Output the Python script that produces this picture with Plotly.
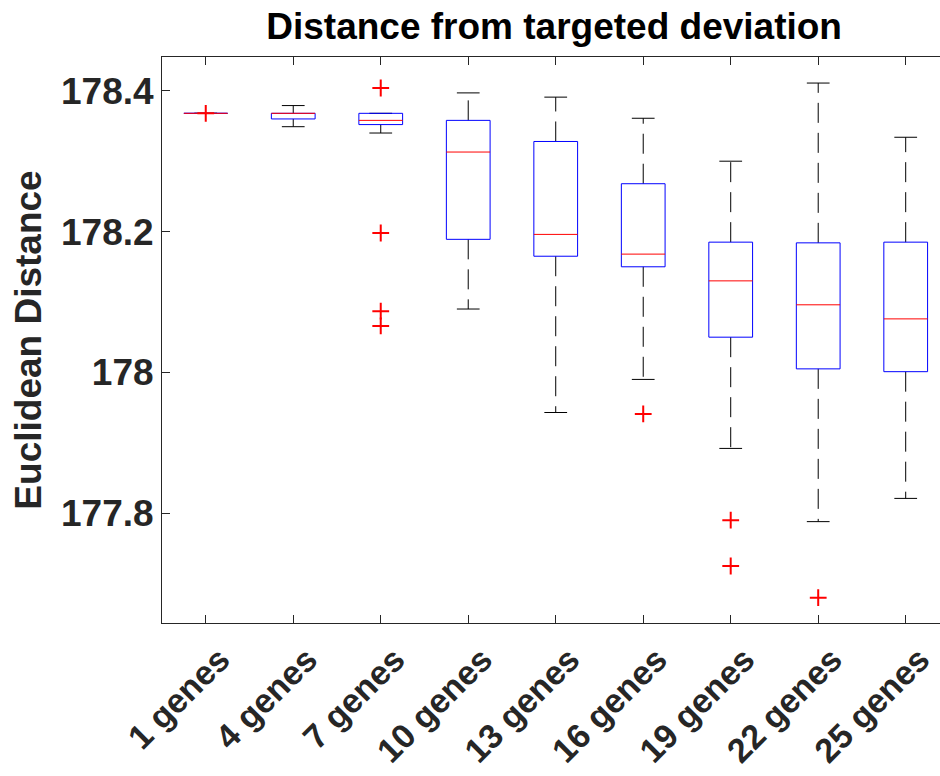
import plotly.graph_objects as go

# ---- data ----
labels = ["1 genes", "4 genes", "7 genes", "10 genes", "13 genes",
          "16 genes", "19 genes", "22 genes", "25 genes"]
q1 = [178.368, 178.360, 178.352, 178.189, 178.165, 178.150, 178.050, 178.005, 178.001]
median = [178.368, 178.368, 178.358, 178.313, 178.196, 178.168, 178.130, 178.096, 178.076]
q3 = [178.368, 178.368, 178.368, 178.358, 178.328, 178.268, 178.185, 178.184, 178.185]
whisker_low = [178.368, 178.349, 178.340, 178.090, 177.943, 177.990, 177.892, 177.788, 177.821]
whisker_high = [178.368, 178.379, 178.368, 178.397, 178.391, 178.361, 178.300, 178.411, 178.334]
outliers = {
    "1 genes": [178.368],
    "7 genes": [178.404, 178.198, 178.087, 178.066],
    "16 genes": [177.941],
    "19 genes": [177.790, 177.725],
    "22 genes": [177.680],
}
ytick_vals = [177.8, 178.0, 178.2, 178.4]
ytick_text = ["177.8", "178", "178.2", "178.4"]

# ---- style ----
BOX_HALF = 0.25
CAP_HALF = 0.13
FONT = "Liberation Sans, Arial, Helvetica, sans-serif"
AXIS_COLOR = "#262626"

pos = list(range(1, len(labels) + 1))

box_x, box_y = [], []
med_x, med_y = [], []
wh_x, wh_y = [], []
cap_x, cap_y = [], []
for p, a, m, b, lo, hi in zip(pos, q1, median, q3, whisker_low, whisker_high):
    box_x += [p - BOX_HALF, p + BOX_HALF, p + BOX_HALF, p - BOX_HALF, p - BOX_HALF, None]
    box_y += [a, a, b, b, a, None]
    med_x += [p - BOX_HALF, p + BOX_HALF, None]
    med_y += [m, m, None]
    wh_x += [p, p, None, p, p, None]
    wh_y += [b, hi, None, a, lo, None]
    cap_x += [p - CAP_HALF, p + CAP_HALF, None, p - CAP_HALF, p + CAP_HALF, None]
    cap_y += [hi, hi, None, lo, lo, None]

out_x, out_y = [], []
for lab, vals in outliers.items():
    p = labels.index(lab) + 1
    for v in vals:
        out_x.append(p)
        out_y.append(v)

fig = go.Figure()
fig.add_trace(go.Scatter(x=wh_x, y=wh_y, mode="lines",
                         line=dict(color="black", width=1, dash="20px,10px"),
                         hoverinfo="skip", showlegend=False))
fig.add_trace(go.Scatter(x=cap_x, y=cap_y, mode="lines",
                         line=dict(color="black", width=1),
                         hoverinfo="skip", showlegend=False))
fig.add_trace(go.Scatter(x=box_x, y=box_y, mode="lines",
                         line=dict(color="#0000ff", width=1),
                         hoverinfo="skip", showlegend=False))
fig.add_trace(go.Scatter(x=med_x, y=med_y, mode="lines",
                         line=dict(color="#ff0000", width=1),
                         hoverinfo="skip", showlegend=False))
fig.add_trace(go.Scatter(x=out_x, y=out_y, mode="markers",
                         marker=dict(symbol="cross-thin", size=12,
                                     line=dict(color="#ff0000", width=2)),
                         hoverinfo="skip", showlegend=False))

fig.update_layout(
    template="none",
    width=940, height=776,
    margin=dict(l=162, r=0, t=57, b=153, autoexpand=False),
    paper_bgcolor="white", plot_bgcolor="white",
    font=dict(family=FONT, color="#262626"),
    title=dict(text="Distance from targeted deviation",
               x=0.504, xref="paper", xanchor="center",
               y=1 - 26 / 776, yref="container", yanchor="middle",
               font=dict(family=FONT, size=37, color="black", weight="bold")),
    showlegend=False,
)
fig.update_xaxes(
    automargin=False,
    range=[0.5, 9.392], tickmode="array", tickvals=pos, ticktext=labels,
    tickangle=-45, ticks="inside", ticklen=8, tickcolor=AXIS_COLOR, tickwidth=1,
    ticklabelshift=14, ticklabelstandoff=2,
    showline=True, linecolor=AXIS_COLOR, linewidth=1, mirror="ticks",
    showgrid=False, zeroline=False,
    tickfont=dict(family=FONT, size=34, color="#262626", weight="bold"),
)
fig.update_yaxes(
    automargin=False,
    range=[177.644, 178.448], tickmode="array", tickvals=ytick_vals, ticktext=ytick_text,
    ticks="inside", ticklen=8, tickcolor=AXIS_COLOR, tickwidth=1,
    showline=True, linecolor=AXIS_COLOR, linewidth=1, mirror=False,
    showgrid=False, zeroline=False,
    tickfont=dict(family=FONT, size=37, color="#262626", weight="bold"),
    title=dict(text="Euclidean Distance", standoff=8,
               font=dict(family=FONT, size=37, color="#262626", weight="bold")),
)

fig.write_html("out.html")
